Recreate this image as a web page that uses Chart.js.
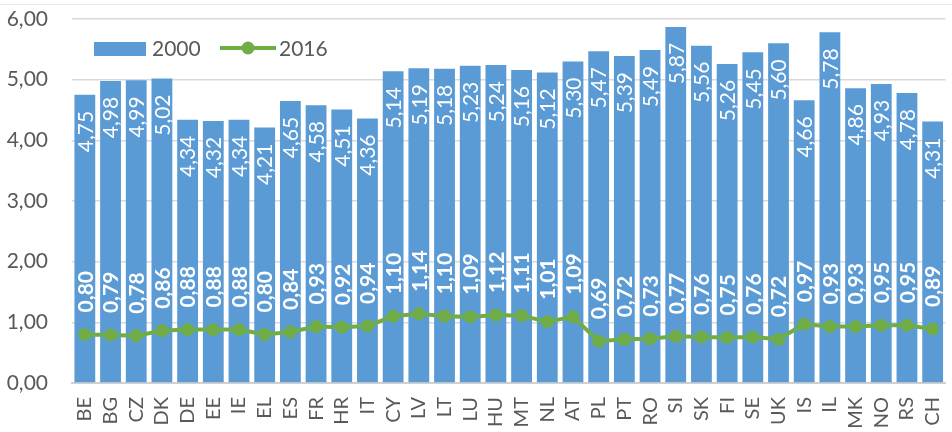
<!DOCTYPE html>
<html>
<head>
<meta charset="utf-8">
<script src="https://cdn.jsdelivr.net/npm/chart.js@4/dist/chart.umd.min.js"></script>
<style>
  html, body { margin: 0; padding: 0; background: #fff; }
  #wrap { width: 952px; height: 432px; position: relative; }
</style>
</head>
<body>
<div id="wrap"><canvas id="chart-area"></canvas></div>
<script>
var countries = ["BE","BG","CZ","DK","DE","EE","IE","EL","ES","FR","HR","IT","CY","LV","LT","LU","HU","MT","NL","AT","PL","PT","RO","SI","SK","FI","SE","UK","IS","IL","MK","NO","RS","CH"];
var values2000 = [4.75,4.98,4.99,5.02,4.34,4.32,4.34,4.21,4.65,4.58,4.51,4.36,5.14,5.19,5.18,5.23,5.24,5.16,5.12,5.30,5.47,5.39,5.49,5.87,5.56,5.26,5.45,5.60,4.66,5.78,4.86,4.93,4.78,4.31];
var values2016 = [0.80,0.79,0.78,0.86,0.88,0.88,0.88,0.80,0.84,0.93,0.92,0.94,1.10,1.14,1.10,1.09,1.12,1.11,1.01,1.09,0.69,0.72,0.73,0.77,0.76,0.75,0.76,0.72,0.97,0.93,0.93,0.95,0.95,0.89];
var seriesNames = ["2000", "2016"];

var BLUE = "#5B9BD5";
var GREEN = "#70AD47";
var GREY = "#595959";
var FONT = "Lato, 'Liberation Sans', sans-serif";

function fmt(v) {
    return v.toFixed(2).replace(".", ",");
}

// value labels, written vertically like the original
var labelPlugin = {
    id: "valueLabels",
    afterDatasetsDraw: function(chart) {
        var ctx = chart.ctx;
        ctx.save();
        ctx.fillStyle = "#fff";
        ctx.textBaseline = "middle";
        chart.getDatasetMeta(0).data.forEach(function(el, i) {
            ctx.save();
            ctx.translate(el.x, el.y + 16);
            ctx.rotate(-Math.PI / 2);
            ctx.textAlign = "right";
            ctx.font = "21px " + FONT;
            ctx.fillText(fmt(values2000[i]), 0, 1);
            ctx.restore();
        });
        chart.getDatasetMeta(1).data.forEach(function(el, i) {
            ctx.save();
            ctx.translate(el.x, el.y - 22);
            ctx.rotate(-Math.PI / 2);
            ctx.textAlign = "left";
            ctx.font = "bold 21px " + FONT;
            ctx.fillText(fmt(values2016[i]), 0, 1);
            ctx.restore();
        });
        ctx.restore();
    },
    afterDraw: function(chart) {
        // legend sits inside the plot, top left
        var ctx = chart.ctx;
        ctx.save();
        ctx.fillStyle = BLUE;
        ctx.fillRect(94, 42, 52, 14);
        ctx.font = "21px " + FONT;
        ctx.fillStyle = GREY;
        ctx.textBaseline = "middle";
        ctx.textAlign = "left";
        ctx.fillText(seriesNames[0], 152, 49);
        ctx.strokeStyle = GREEN;
        ctx.lineWidth = 4;
        ctx.beginPath();
        ctx.moveTo(220, 48);
        ctx.lineTo(276, 48);
        ctx.stroke();
        ctx.fillStyle = GREEN;
        ctx.beginPath();
        ctx.arc(248, 48, 6.5, 0, Math.PI * 2);
        ctx.fill();
        ctx.fillStyle = GREY;
        ctx.fillText(seriesNames[1], 279, 49);
        // thin outer border line at top
        ctx.strokeStyle = "#EBEBEB";
        ctx.lineWidth = 1;
        ctx.beginPath();
        ctx.moveTo(0, 4.5);
        ctx.lineTo(952, 4.5);
        ctx.stroke();
        ctx.restore();
    }
};

var config = {
    type: "bar",
    data: {
        labels: countries,
        datasets: [
            {
                label: seriesNames[0],
                data: values2000,
                backgroundColor: BLUE,
                barPercentage: 0.81,
                categoryPercentage: 1.0,
                order: 2
            },
            {
                type: "line",
                label: seriesNames[1],
                data: values2016,
                borderColor: GREEN,
                backgroundColor: GREEN,
                borderWidth: 4,
                pointRadius: 6.5,
                pointBackgroundColor: GREEN,
                pointBorderWidth: 0,
                tension: 0,
                order: 1
            }
        ]
    },
    options: {
        responsive: true,
        maintainAspectRatio: false,
        animation: false,
        layout: { padding: { top: 19, right: 0, left: 0, bottom: 0 } },
        plugins: {
            legend: { display: false },
            tooltip: { enabled: false }
        },
        scales: {
            x: {
                grid: { display: false, drawTicks: false },
                border: { color: "#D0D0D0", width: 2 },
                ticks: {
                    color: GREY,
                    font: { family: FONT, size: 20 },
                    maxRotation: 90,
                    minRotation: 90,
                    padding: 14,
                    autoSkip: false
                },
                afterFit: function(s) {
                    s.height = 49;
                    s.paddingLeft = 0;
                    s.paddingRight = 0;
                }
            },
            y: {
                min: 0,
                max: 6,
                grid: { color: "#D9D9D9", lineWidth: 1.5, drawTicks: false },
                border: { display: false },
                ticks: {
                    stepSize: 1,
                    color: GREY,
                    font: { family: FONT, size: 21 },
                    padding: 24,
                    callback: function(v) { return fmt(v); }
                },
                afterFit: function(s) {
                    s.width = 72;
                    s.paddingTop = 0;
                    s.paddingBottom = 0;
                }
            }
        }
    },
    plugins: [labelPlugin]
};

window.onload = function() {
    var ctx = document.getElementById("chart-area").getContext("2d");
    window.myChart = new Chart(ctx, config);
};
</script>
</body>
</html>
